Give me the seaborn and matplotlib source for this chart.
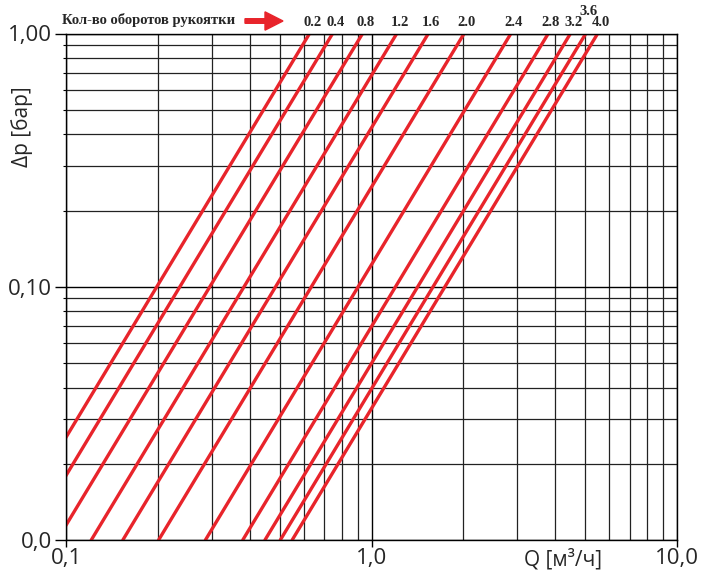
import pandas as pd
import matplotlib
matplotlib.use("Agg")
import matplotlib.pyplot as plt
from matplotlib.ticker import FixedLocator, FixedFormatter, LogLocator, NullFormatter
import seaborn as sns


sns.set_theme(style="white")
plt.rcParams["font.family"] = ["Open Sans", "DejaVu Sans"]

# ДАННЫЕ
oboroty = ["0.2", "0.4", "0.8", "1.2", "1.6", "2.0", "2.4", "2.8", "3.2", "3.6", "4.0"]
# расход Q [м3/ч] при dp = 0.01 бар и при dp = 1.00 бар
q_dp001 = [0.0627, 0.0746, 0.0935, 0.121, 0.1535, 0.201, 0.286, 0.379, 0.448, 0.503, 0.550]
q_dp1 = [0.627, 0.746, 0.935, 1.21, 1.535, 2.01, 2.86, 3.79, 4.48, 5.03, 5.50]
dp_koncy = [0.01, 1.0]

x_ticks = [0.1, 1.0, 10.0]
x_labels = ["0,1", "1,0", "10,0"]
y_ticks = [0.01, 0.1, 1.0]
y_labels = ["0,0", "0,10", "1,00"]

KRASNYJ = "#e8242b"

rows = []
for ob, q0, q1 in zip(oboroty, q_dp001, q_dp1):
    rows.append({"oboroty": ob, "Q": q0, "dp": dp_koncy[0]})
    rows.append({"oboroty": ob, "Q": q1, "dp": dp_koncy[1]})
df = pd.DataFrame(rows)

# ГРАФИК
fig = plt.figure(figsize=(7.07, 5.72), dpi=100)
ax = fig.add_axes([66 / 707, 1 - 540 / 572, (677 - 66) / 707, (540 - 33.5) / 572])

ax.set_xscale("log")
ax.set_yscale("log")
ax.set_xlim(0.1, 10)
ax.set_ylim(0.01, 1)

ax.grid(True, which="major", color="black", lw=1.0)
ax.grid(True, which="minor", color="#222222", lw=0.9)
ax.set_axisbelow(True)

sns.lineplot(
    data=df,
    x="Q",
    y="dp",
    hue="oboroty",
    palette=[KRASNYJ] * len(oboroty),
    legend=False,
    lw=2.4,
    ax=ax,
)

ax.xaxis.set_major_locator(FixedLocator(x_ticks))
ax.xaxis.set_major_formatter(FixedFormatter(x_labels))
ax.yaxis.set_major_locator(FixedLocator(y_ticks))
ax.yaxis.set_major_formatter(FixedFormatter(y_labels))
ax.xaxis.set_minor_locator(LogLocator(base=10, subs=range(2, 10)))
ax.yaxis.set_minor_locator(LogLocator(base=10, subs=range(2, 10)))
ax.xaxis.set_minor_formatter(NullFormatter())
ax.yaxis.set_minor_formatter(NullFormatter())

ax.tick_params(axis="y", which="major", left=True, length=8, width=1.0,
               color="black", labelsize=16, pad=2)
ax.tick_params(axis="y", which="minor", left=True, length=2, width=0.8, color="black")
ax.tick_params(axis="x", which="major", bottom=True, length=5, width=1.0,
               color="black", labelsize=16, pad=1)
ax.tick_params(axis="x", which="minor", bottom=False)

for side in ["left", "bottom", "top", "right"]:
    ax.spines[side].set_color("black")
    ax.spines[side].set_linewidth(1.0)

ax.set_xlabel("")
ax.set_ylabel("")

fig.text(0.031, 1 - 127 / 572, "Δp [бар]", rotation=90, fontsize=15,
         ha="center", va="center")
fig.text(563 / 707, 1 - 560 / 572, "Q [м³/ч]", fontsize=15,
         ha="center", va="center")

# подписи оборотов
for ob, q1 in zip(oboroty, q_dp1):
    dy = 11 if ob == "3.6" else 3
    ax.annotate(ob, xy=(q1, 1.0), xytext=(2, dy), textcoords="offset points",
                ha="center", va="bottom", fontsize=10.5, fontweight="bold",
                family="Liberation Serif", annotation_clip=False)

fig.text(62 / 707, 1 - 20 / 572, "Кол-во оборотов рукоятки", fontsize=10.5,
         fontweight="bold", family="Liberation Serif", ha="left", va="center")
fig.patches.append(matplotlib.patches.FancyArrow(
    245 / 707, 1 - 21 / 572, 20 / 707, 0, width=0.008, head_width=0.032,
    head_length=18 / 707, length_includes_head=False, color=KRASNYJ,
    transform=fig.transFigure, figure=fig))

fig.savefig("out.png", dpi=100)
